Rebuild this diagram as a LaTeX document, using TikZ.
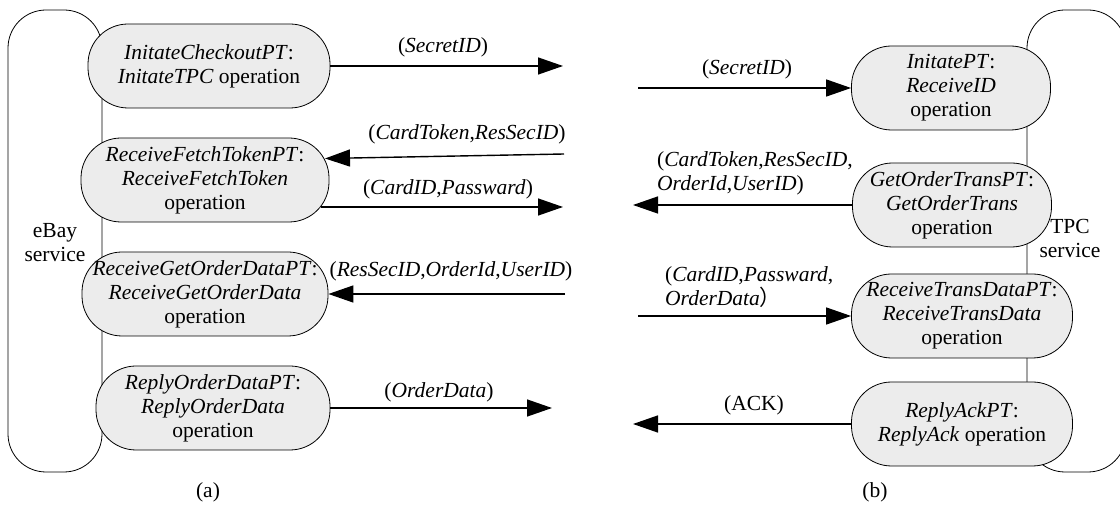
\documentclass[tikz,border=0pt]{standalone}
\usepackage{fontspec}
\setmainfont{Liberation Serif}
\newfontfamily\cjk{Noto Sans CJK SC}
\usetikzlibrary{arrows.meta}
\newcommand\myfs{\fontsize{21.5}{24}\selectfont}
\begin{document}
\begin{tikzpicture}[x=1pt,y=-1pt,
 op/.style={draw, line width=0.8pt, fill=gray!15, rounded corners=40pt, minimum height=84pt, align=center, inner sep=0pt, font=\myfs},
 lbl/.style={font=\myfs, inner sep=0pt, align=left},
 msg/.style={line width=1.4pt, -{Triangle[length=25pt,width=17pt]}},
 box/.style={draw, line width=0.8pt, rounded corners=38pt}]
\useasboundingbox (0,0) rectangle (1120,518);
% containers
\draw[box] (8,10) rectangle (102,472);
\draw[box] (1027,10) rectangle (1126,472);
\node[lbl, align=center] (ebay) at (55,243) {eBay\\service};
\node[lbl, align=center] (tpc) at (1070,238) {TPC\\service};
% eBay operations
\node[op, minimum width=242pt] (n1) at (209,66) {\textit{InitateCheckoutPT}:\\\textit{InitateTPC} operation};
\node[op, minimum width=248pt] (n2) at (205,180) {\textit{ReceiveFetchTokenPT}:\\\textit{ReceiveFetchToken}\\operation};
\node[op, minimum width=246pt] (n3) at (205,294) {\textit{ReceiveGetOrderDataPT}:\\\textit{ReceiveGetOrderData}\\operation};
\node[op, minimum width=234pt] (n4) at (213,408) {\textit{ReplyOrderDataPT}:\\\textit{ReplyOrderData}\\operation};
% TPC operations
\node[op, minimum width=199pt] (t1) at (951,88) {\textit{InitatePT}:\\\textit{ReceiveID}\\operation};
\node[op, minimum width=199pt] (t2) at (952,205) {\textit{GetOrderTransPT}:\\\textit{GetOrderTrans}\\operation};
\node[op, minimum width=221pt] (t3) at (962,316) {\textit{ReceiveTransDataPT}:\\\textit{ReceiveTransData}\\operation};
\node[op, minimum width=221pt] (t4) at (962,424) {\textit{ReplyAckPT}:\\\textit{ReplyAck} operation};
% free ends
\coordinate (e1) at (563,66);
\coordinate (s2) at (638,88);
\coordinate (s3) at (564,154);
\coordinate (e3) at (325,158.5);
\coordinate (s4) at (321,207);
\coordinate (e4) at (563,207);
\coordinate (e5) at (633,205);
\coordinate (s6) at (565,294);
\coordinate (s7) at (638,316);
\coordinate (e8) at (552,408);
\coordinate (e9) at (633,424);
% messages
\draw[msg] (n1.east) -- (e1);
\draw[msg] (s2) -- (t1.west);
\draw[msg] (s3) -- (e3);
\draw[msg] (s4) -- (e4);
\draw[msg] (t2.west) -- (e5);
\draw[msg] (s6) -- (n3.east);
\draw[msg] (s7) -- (t3.west);
\draw[msg] (n4.east) -- (e8);
\draw[msg] (t4.west) -- (e9);
% labels
\node[lbl] (l1) at (443,47) {(\textit{SecretID})};
\node[lbl] (l2) at (747,69) {(\textit{SecretID})};
\node[lbl] (l3) at (467,134) {(\textit{CardToken},\textit{ResSecID})};
\node[lbl] (l4) at (448,189) {(\textit{CardID},\textit{Passward})};
\node[lbl, anchor=west] (l5) at (657,173) {(\textit{CardToken},\textit{ResSecID},\\\textit{OrderId},\textit{UserID})};
\node[lbl] (l6) at (451,271) {(\textit{ResSecID},\textit{OrderId},\textit{UserID})};
\node[lbl, anchor=west] (l7) at (665,287) {(\textit{CardID},\textit{Passward},\\\textit{OrderData}{\cjk ）}};
\node[lbl] (l8) at (439,392) {(\textit{OrderData})};
\node[lbl] (l9) at (754,405) {(ACK)};
\node[lbl] (ca) at (208,492) {(a)};
\node[lbl] (cb) at (875,492) {(b)};
\end{tikzpicture}
\end{document}
